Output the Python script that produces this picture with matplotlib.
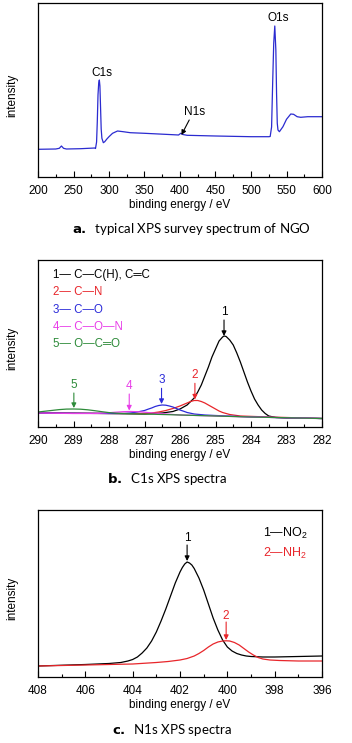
import matplotlib
matplotlib.use("Agg")
import matplotlib.pyplot as plt
from matplotlib.ticker import MultipleLocator

plt.rcParams['font.family'] = ['Liberation Sans', 'DejaVu Sans']
plt.rcParams['mathtext.fontset'] = 'custom'
plt.rcParams['mathtext.rm'] = 'Liberation Sans'
plt.rcParams['mathtext.it'] = 'Liberation Sans'

# --- a. survey spectrum (binding energy eV, intensity a.u.) ---
survey_ev = [200, 225, 230, 233, 236, 240, 260, 280, 281, 282.5, 283.5, 284.5, 285.5, 286.4,
             287.2, 288, 289, 290, 292, 294, 297, 300, 305, 312, 320, 330, 350, 370, 390,
             398, 401, 404, 410, 450, 500, 525, 527, 529, 530.5, 532, 533.5, 535, 536, 537,
             538, 540, 545, 550, 556, 560, 565, 570, 580, 590, 600]
survey_int = [27.7, 28, 28.7, 31, 28.7, 28, 28.3, 29, 28.5, 35, 55, 82, 94, 97,
              91, 72, 48, 38.7, 34.3, 35.3, 38, 40.3, 43.7, 46, 45.3, 44.3, 43.7, 43, 42.3,
              42, 43.7, 42.5, 41.7, 41, 40.3, 40.3, 40.5, 50, 93.7, 133.7, 151, 127, 83.7,
              53.7, 47, 45.3, 50.3, 57.7, 63, 62.7, 60.3, 59.7, 60.3, 60.3, 60.3]

# --- b. C1s fitted components ---
c1_ev = [290, 288, 287, 286.5, 286.2, 286.0, 285.8, 285.6, 285.5, 285.4, 285.3, 285.2,
         285.1, 285.0, 284.9, 284.8, 284.76, 284.7, 284.6, 284.5, 284.4, 284.3, 284.2,
         284.1, 284.0, 283.9, 283.8, 283.7, 283.6, 283.5, 283.3, 283, 282]
c1_int = [14, 13.5, 13, 14, 15.5, 18, 22, 29, 35, 42, 51, 60,
          70, 78, 86, 90, 91, 90.5, 87, 82, 74, 65, 55,
          45, 36, 28, 22, 17, 13.5, 11, 9.5, 9, 8.5]

c2_ev = [290, 288, 287, 286.8, 286.6, 286.4, 286.2, 286.0, 285.9, 285.8, 285.7, 285.6,
         285.5, 285.4, 285.3, 285.2, 285.1, 285.0, 284.9, 284.8, 284.6, 284.3, 283.5, 282]
c2_int = [14, 13.5, 13.5, 14, 15, 16.5, 18.5, 21, 22.5, 24, 25.5, 26.5,
          26.5, 25.5, 24, 22, 20, 18, 16, 14.5, 12.5, 11, 10, 8.5]

c3_ev = [290, 288, 287.6, 287.4, 287.2, 287.0, 286.9, 286.8, 286.7, 286.6, 286.5, 286.4,
         286.3, 286.2, 286.1, 286.0, 285.9, 285.8, 285.6, 285.3, 285.0, 284, 282]
c3_int = [14, 13.5, 13.5, 14, 15, 16.5, 17.8, 19, 20.5, 21.5, 22, 21.8,
          21, 20, 18.5, 17, 15.8, 14.5, 13, 12, 11.5, 10, 8.5]

c4_ev = [290, 289, 288.4, 288.1, 287.8, 287.6, 287.4, 287.2, 287.0, 286.7, 286.4, 286,
         285, 284, 282]
c4_int = [14, 13.5, 13.5, 14, 14.8, 15.3, 15.5, 15.3, 14.8, 13.8, 13, 12,
          11, 10, 8.5]

c5_ev = [290, 289.8, 289.6, 289.4, 289.2, 289.0, 288.8, 288.6, 288.4, 288.2, 288.0,
         287.8, 287.5, 287, 286, 284, 282]
c5_int = [15, 15.8, 16.6, 17.4, 17.9, 18, 17.8, 17.2, 16.3, 15.3, 14.4,
          13.8, 13.3, 13, 12, 10, 8.5]

c1s_labels = ["1\u2014 C\u2014C(H), C\u2550C", "2\u2014 C\u2014N", "3\u2014 C\u2014O",
              "4\u2014 C\u2014O\u2014N", "5\u2014 O\u2014C\u2550O"]
c1s_peaks = [284.76, 285.58, 286.52, 287.43, 288.99]

# --- c. N1s fitted components ---
n1_ev = [408, 406, 405, 404.5, 404.2, 404, 403.8, 403.6, 403.4, 403.2, 403.0, 402.8,
         402.6, 402.4, 402.2, 402.0, 401.9, 401.8, 401.7, 401.6, 401.5, 401.4, 401.2,
         401.0, 400.8, 400.6, 400.4, 400.2, 400.0, 399.8, 399.6, 399.4, 399.2, 399.0,
         398.5, 398, 397, 396]
n1_int = [11, 12.5, 13.5, 14.5, 16, 17.5, 20, 24, 29, 36, 45, 56,
          68, 81, 94, 105, 109.5, 113, 115, 114, 112, 108.5, 99,
          87, 73, 59, 47, 37, 30, 26, 23.5, 22, 21, 20.5,
          20, 20, 20.5, 21]

n2_ev = [408, 406, 404, 403, 402.5, 402, 401.7, 401.4, 401.2, 401.0, 400.8, 400.6,
         400.4, 400.2, 400.05, 399.9, 399.7, 399.5, 399.3, 399.1, 398.9, 398.7, 398.5,
         398.2, 397.8, 397, 396]
n2_int = [11, 12, 13, 14.5, 15.5, 17, 18.5, 21, 23.5, 26.5, 30, 33,
          35, 36, 36.2, 36, 34.5, 32, 28.5, 25, 22, 19.5, 18,
          17, 16.5, 16, 16]

n1s_labels = ["1\u2014NO$_2$", "2\u2014NH$_2$"]
n1s_peaks = [401.7, 400.05]

colors = ['black', '#e8262b', '#2b2bd9', '#e83ee8', '#2e8b3a']

W, H = 352, 743
fig = plt.figure(figsize=(W / 100, H / 100), dpi=100)


def make_axes(top_px, bottom_px):
    return fig.add_axes([38 / W, 1 - bottom_px / H, 284 / W, (bottom_px - top_px) / H])


def style(ax, major, minor):
    for s in ax.spines.values():
        s.set_linewidth(0.9)
    ax.set_yticks([])
    ax.xaxis.set_major_locator(MultipleLocator(major))
    ax.xaxis.set_minor_locator(MultipleLocator(minor))
    ax.tick_params(axis='x', which='major', direction='in', length=4, width=0.8,
                   labelsize=8.5, pad=6)
    ax.tick_params(axis='x', which='minor', direction='in', length=2.5, width=0.8)
    ax.set_xlabel("binding energy / eV", fontsize=8.5, labelpad=1)
    ax.set_ylabel("intensity", fontsize=8.5)
    ax.yaxis.set_label_coords(-0.07, 0.47)


def arrow(ax, x, y_from, y_to, label, ly, color):
    ax.annotate("", xy=(x, y_to), xytext=(x, y_from),
                arrowprops=dict(arrowstyle='-|>', color=color, lw=0.8, mutation_scale=7,
                                shrinkA=0, shrinkB=0))
    ax.text(x, ly, label, color=color, fontsize=8.5, ha='center', va='center')


def caption(xc, yc, letter, text):
    fig.text(xc / W, 1 - yc / H, r"$\bf{" + letter + r".}$  " + text, ha='center',
             va='center', fontsize=9.5, family=['Lato', 'DejaVu Sans'])


# panel a
ax = make_axes(3, 177)
ax.plot(survey_ev, survey_int, color='#2b2bd0', lw=0.9)
ax.set_xlim(200, 600)
ax.set_ylim(0, 174)
style(ax, 50, 25)
ax.text(289.6, 104, "C1s", fontsize=8.5, ha='center', va='center')
ax.text(538.5, 159, "O1s", fontsize=8.5, ha='center', va='center')
ax.text(420, 65, "N1s", fontsize=8.5, ha='center', va='center')
ax.annotate("", xy=(402, 42), xytext=(413, 57),
            arrowprops=dict(arrowstyle='-|>', color='black', lw=0.8, mutation_scale=7,
                            shrinkA=0, shrinkB=0))
caption(191, 229, "a", "typical XPS survey spectrum of NGO")

# panel b
ax = make_axes(260, 427)
series_b = [(c1_ev, c1_int), (c2_ev, c2_int), (c3_ev, c3_int), (c4_ev, c4_int), (c5_ev, c5_int)]
for (xs, ys), c in zip(series_b, colors):
    ax.plot(xs, ys, color=c, lw=0.9)
ax.set_xlim(290, 282)
ax.set_ylim(0, 167)
style(ax, 1, 0.5)
for i, lab in enumerate(c1s_labels):
    ax.text(0.053, (427 - (275 + 17.3 * i)) / 167, lab, color=colors[i], fontsize=8.3,
            ha='left', va='center', transform=ax.transAxes)
arrow_b = [(107, 91, 115), (43.7, 27.5, 52), (38.7, 23, 47), (33, 16.5, 41), (34, 19, 42)]
for i, (y0, y1, ly) in enumerate(arrow_b):
    arrow(ax, c1s_peaks[i], y0, y1, str(i + 1), ly, colors[i])
caption(167, 479, "b", "C1s XPS spectra")

# panel c
ax = make_axes(510, 677)
ax.plot(n1_ev, n1_int, color='black', lw=0.9)
ax.plot(n2_ev, n2_int, color=colors[1], lw=0.9)
ax.set_xlim(408, 396)
ax.set_ylim(0, 167)
style(ax, 2, 1)
ax.text(0.792, (677 - 533) / 167, n1s_labels[0], color='black', fontsize=9,
        ha='left', va='center', transform=ax.transAxes)
ax.text(0.792, (677 - 553) / 167, n1s_labels[1], color=colors[1], fontsize=9,
        ha='left', va='center', transform=ax.transAxes)
arrow(ax, n1s_peaks[0], 132, 116, "1", 139, 'black')
arrow(ax, n1s_peaks[1], 55, 37, "2", 61, colors[1])
caption(172, 730, "c", "N1s XPS spectra")

fig.savefig("out.png", dpi=100)
